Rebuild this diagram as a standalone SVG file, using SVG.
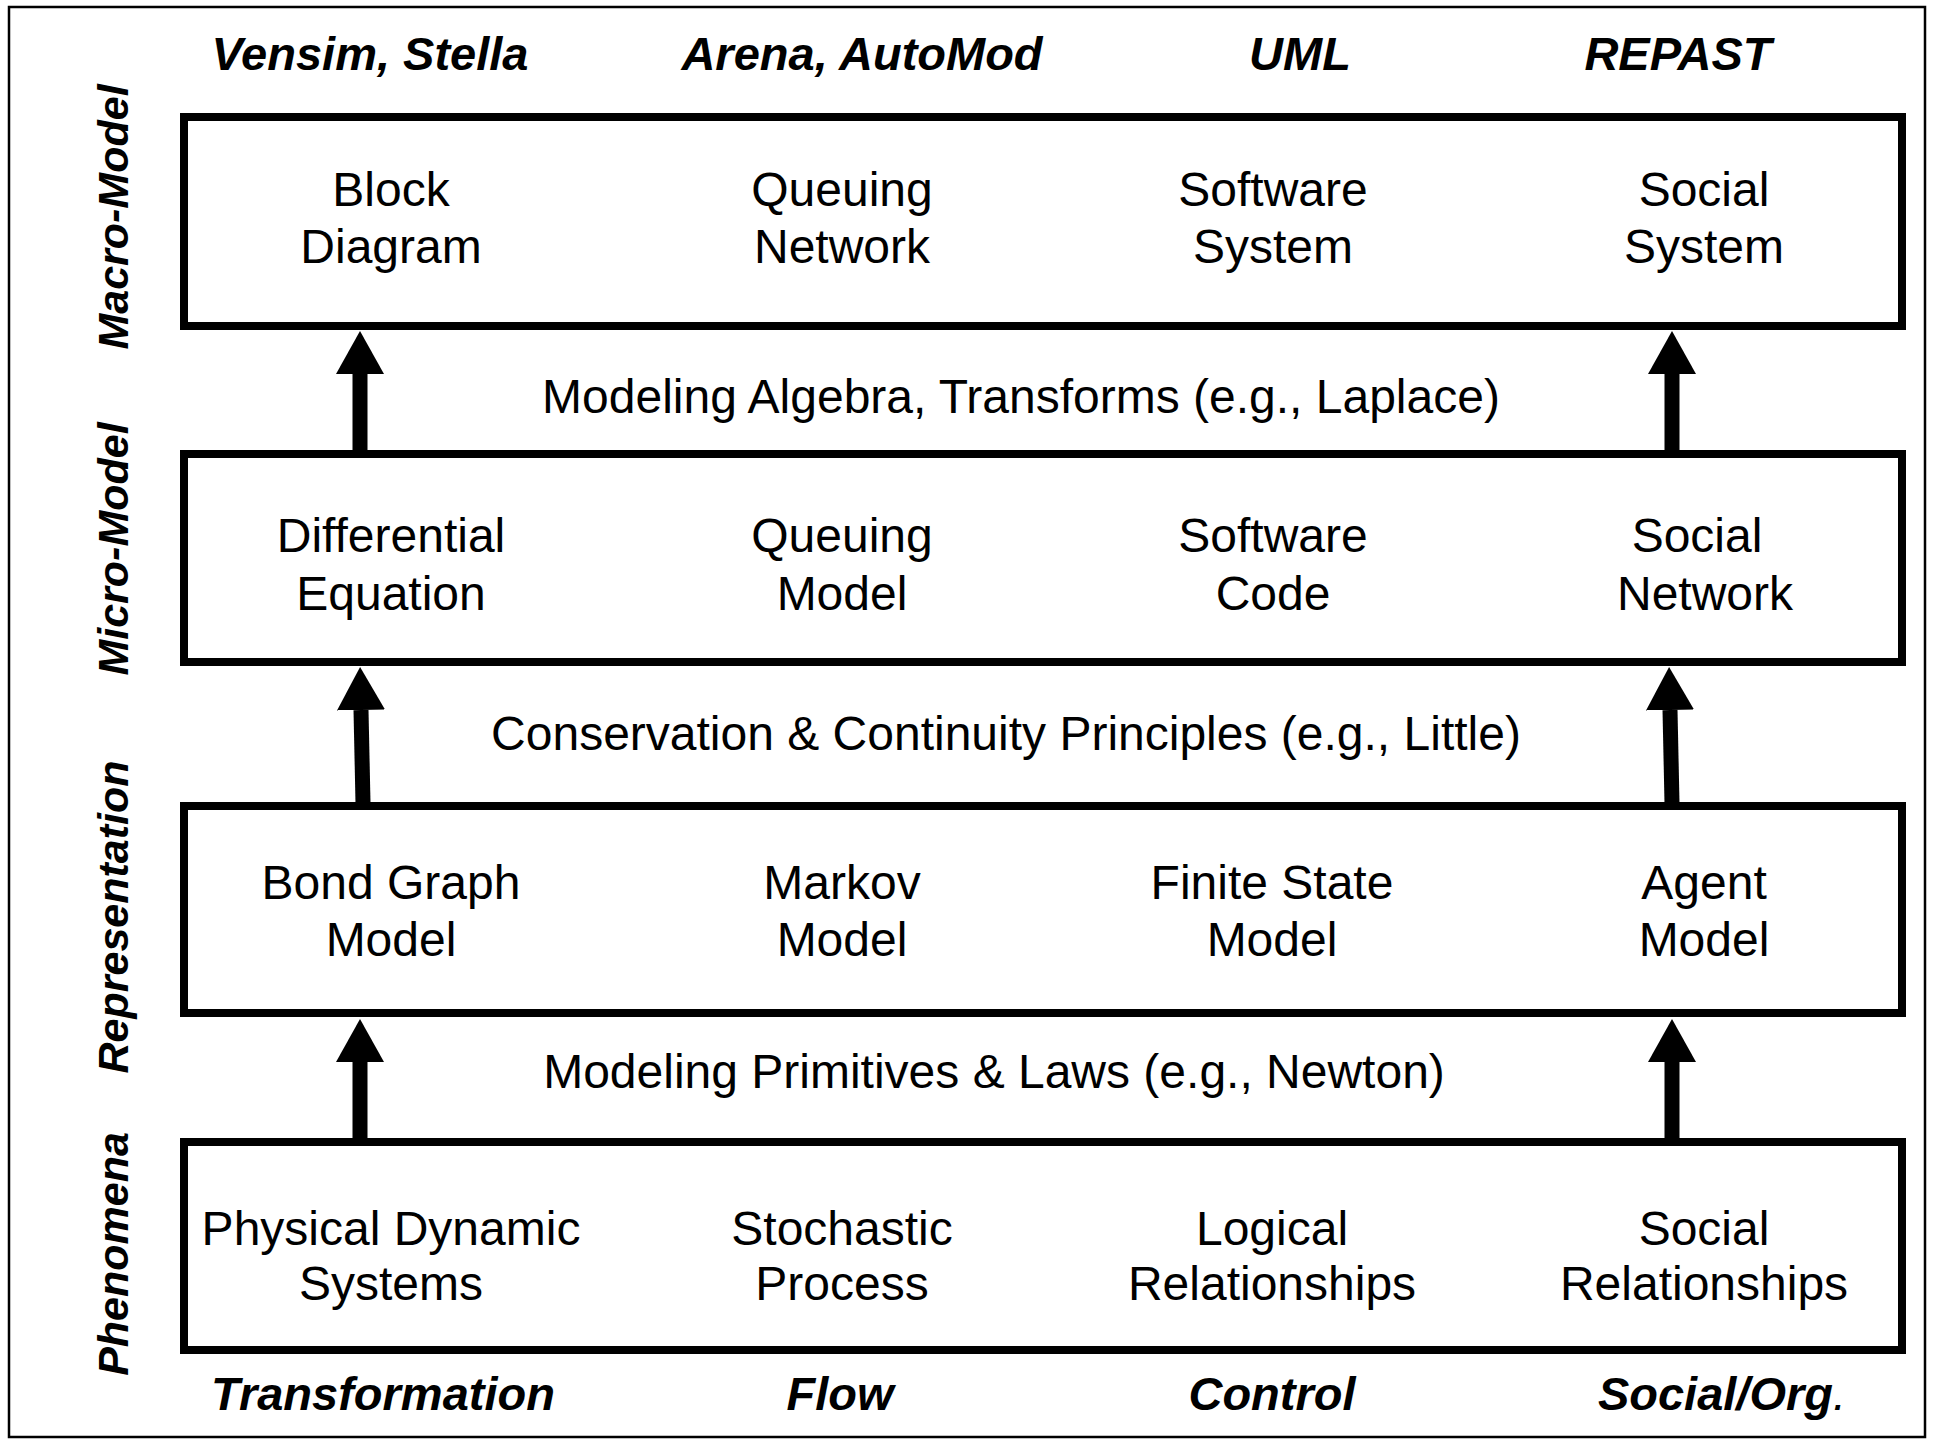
<svg xmlns="http://www.w3.org/2000/svg" width="1937" height="1439" viewBox="0 0 1937 1439">
<style>
.frame{fill:none;stroke:#000;stroke-width:2.5}
.box{fill:#fff;stroke:#000;stroke-width:8}
.t{font-family:"Liberation Sans",Arial,sans-serif;font-size:48px;fill:#000;text-anchor:middle}
.h{font-family:"Liberation Sans",Arial,sans-serif;font-size:47px;font-weight:bold;font-style:italic;fill:#000;text-anchor:middle}
.s{font-family:"Liberation Sans",Arial,sans-serif;font-size:43px;font-weight:bold;font-style:italic;fill:#000;text-anchor:middle}
.conn{stroke:#000;stroke-width:15;fill:none;marker-end:url(#ah)}
</style>
<defs>
<marker id="ah" markerUnits="userSpaceOnUse" viewBox="0 -24 43 48" refX="0" refY="0" markerWidth="43" markerHeight="48" orient="auto">
<path d="M0,-24 L43,0 L0,24 Z" fill="#000"/>
</marker>
</defs>
<rect class="frame" x="9" y="7" width="1916" height="1430"/>
<g id="top-labels">
<text class="h" x="370" y="70">Vensim, Stella</text>
<text class="h" x="862" y="70">Arena, AutoMod</text>
<text class="h" x="1300" y="70">UML</text>
<text class="h" x="1678" y="70">REPAST</text>
</g>
<g id="side-labels">
<text class="s" transform="translate(128,217) rotate(-90)">Macro-Model</text>
<text class="s" transform="translate(128,549) rotate(-90)">Micro-Model</text>
<text class="s" transform="translate(128,917) rotate(-90)">Representation</text>
<text class="s" transform="translate(128,1254) rotate(-90)">Phenomena</text>
</g>
<g id="connectors">
<line class="conn" x1="360" y1="451" x2="360" y2="374"/>
<line class="conn" x1="1672" y1="451" x2="1672" y2="374"/>
<line class="conn" x1="363" y1="803" x2="361" y2="710"/>
<line class="conn" x1="1672" y1="803" x2="1670" y2="710"/>
<line class="conn" x1="360" y1="1139" x2="360" y2="1062"/>
<line class="conn" x1="1672" y1="1139" x2="1672" y2="1062"/>
</g>
<g id="macro-model">
<rect class="box" x="184" y="117" width="1718" height="209"/>
<text class="t" x="391" y="206">Block</text>
<text class="t" x="391" y="263">Diagram</text>
<text class="t" x="842" y="206">Queuing</text>
<text class="t" x="842" y="263">Network</text>
<text class="t" x="1273" y="206">Software</text>
<text class="t" x="1273" y="263">System</text>
<text class="t" x="1704" y="206">Social</text>
<text class="t" x="1704" y="263">System</text>
</g>
<g id="label-algebra">
<text class="t" x="1021" y="413">Modeling Algebra, Transforms (e.g., Laplace)</text>
</g>
<g id="micro-model">
<rect class="box" x="184" y="454" width="1718" height="208"/>
<text class="t" x="391" y="552">Differential</text>
<text class="t" x="391" y="610">Equation</text>
<text class="t" x="842" y="552">Queuing</text>
<text class="t" x="842" y="610">Model</text>
<text class="t" x="1273" y="552">Software</text>
<text class="t" x="1273" y="610">Code</text>
<text class="t" x="1697" y="552">Social</text>
<text class="t" x="1705" y="610">Network</text>
</g>
<g id="label-conservation">
<text class="t" x="1006" y="750">Conservation &amp; Continuity Principles (e.g., Little)</text>
</g>
<g id="representation">
<rect class="box" x="184" y="806" width="1718" height="207"/>
<text class="t" x="391" y="899">Bond Graph</text>
<text class="t" x="391" y="956">Model</text>
<text class="t" x="842" y="899">Markov</text>
<text class="t" x="842" y="956">Model</text>
<text class="t" x="1272" y="899">Finite State</text>
<text class="t" x="1272" y="956">Model</text>
<text class="t" x="1704" y="899">Agent</text>
<text class="t" x="1704" y="956">Model</text>
</g>
<g id="label-primitives">
<text class="t" x="994" y="1088">Modeling Primitives &amp; Laws (e.g., Newton)</text>
</g>
<g id="phenomena">
<rect class="box" x="184" y="1142" width="1718" height="208"/>
<text class="t" x="391" y="1245">Physical Dynamic</text>
<text class="t" x="391" y="1300">Systems</text>
<text class="t" x="842" y="1245">Stochastic</text>
<text class="t" x="842" y="1300">Process</text>
<text class="t" x="1272" y="1245">Logical</text>
<text class="t" x="1272" y="1300">Relationships</text>
<text class="t" x="1704" y="1245">Social</text>
<text class="t" x="1704" y="1300">Relationships</text>
</g>
<g id="bottom-labels">
<text class="h" x="383" y="1410">Transformation</text>
<text class="h" x="840" y="1410">Flow</text>
<text class="h" x="1272" y="1410">Control</text>
<text class="h" x="1722" y="1410">Social/Org<tspan font-weight="normal">.</tspan></text>
</g>
</svg>
